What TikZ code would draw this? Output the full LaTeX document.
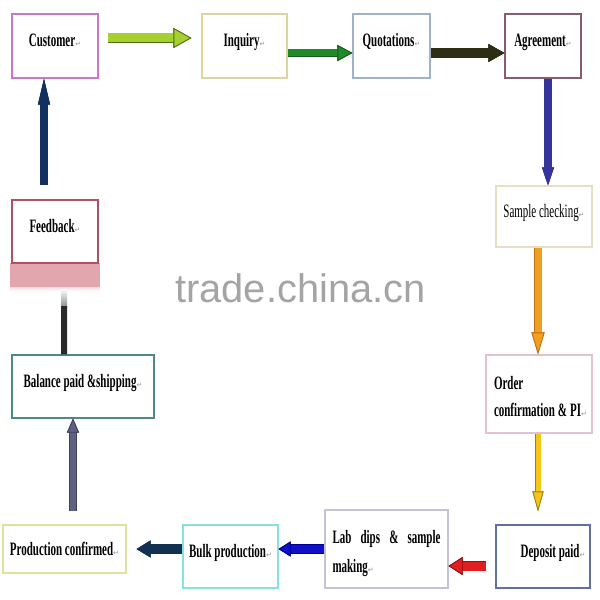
\documentclass[tikz,border=0pt]{standalone}
\usepackage{fontspec}
\setmainfont{Liberation Serif}[FakeStretch=0.58]
\newfontfamily\parmarkfont{DejaVu Sans}
\newfontfamily\watermarkfont{Liberation Sans}
\usetikzlibrary{arrows.meta}
\definecolor{retgray}{HTML}{909090}
\definecolor{bcust}{HTML}{C878C8}
\definecolor{binq}{HTML}{DDD4A0}
\definecolor{bquot}{HTML}{9FB0D0}
\definecolor{bagr}{HTML}{8A5A6E}
\definecolor{bsamp}{HTML}{E6DEC6}
\definecolor{border}{HTML}{E2C2D2}
\definecolor{bdep}{HTML}{6070A0}
\definecolor{blab}{HTML}{C8C0D8}
\definecolor{bbulk}{HTML}{88E0E0}
\definecolor{bprod}{HTML}{E0E0A0}
\definecolor{bbal}{HTML}{508888}
\definecolor{bfeed}{HTML}{B05060}
\definecolor{pinkband}{HTML}{E2A6AE}
\definecolor{wmgray}{HTML}{A4A4A4}
\definecolor{aLime}{HTML}{A6D030}\definecolor{aLimeO}{HTML}{4A7010}
\definecolor{aGreen}{HTML}{1F8A2A}\definecolor{aGreenO}{HTML}{1A5A1A}
\definecolor{aOlive}{HTML}{2E2E16}
\definecolor{aPurp}{HTML}{34349A}
\definecolor{aOrange}{HTML}{F0A020}\definecolor{aOrangeO}{HTML}{C07010}
\definecolor{aYellow}{HTML}{F5C518}\definecolor{aYellowO}{HTML}{A08010}
\definecolor{aRed}{HTML}{E02020}\definecolor{aRedO}{HTML}{901010}
\definecolor{aBlue}{HTML}{1010C8}\definecolor{aBlueO}{HTML}{000090}
\definecolor{aNavy}{HTML}{123050}
\definecolor{aNavyB}{HTML}{123060}
\definecolor{aSlate}{HTML}{606080}\definecolor{aSlateO}{HTML}{404060}
\definecolor{aDark}{HTML}{2A2A2A}
\newcommand\pmk{{\parmarkfont\mdseries\fontsize{7}{7}\selectfont\textcolor{retgray}{↵}}}
\begin{document}
\begin{tikzpicture}[x=1bp,y=-1bp,
  box/.style={draw=#1, line width=1.1bp, fill=white, inner sep=4bp,
    font=\fontsize{19}{27}\selectfont\bfseries},
  one/.style={text height=13bp, text depth=12bp},
  barrow/.style n args={5}{draw=#1, line width=#3,
    -{Triangle[length=#4, width=#5, fill=#1, color=#2, line width=0.8bp]},
    preaction={draw=#2, line width=#3+1.6bp}},
  watermark/.style={text=wmgray, font=\watermarkfont\fontsize{40}{40}\selectfont}]
\useasboundingbox (0,0) rectangle (600,600);

% pink band under Feedback
\fill[pinkband] (10,263) rectangle (100,287);
\shade[top color=pinkband!40, bottom color=white] (10,287) rectangle (100,291);

% boxes
\node[box=bcust, one, minimum width=86bp, minimum height=64bp] (cust) at (55,46) {Customer\pmk};
\node[box=binq, one, minimum width=85bp, minimum height=64bp] (inq) at (244.5,46) {Inquiry\pmk};
\node[box=bquot, one, minimum width=77bp, minimum height=64bp] (quot) at (391.5,46) {Quotations\pmk};
\node[box=bagr, one, minimum width=76bp, minimum height=64bp] (agr) at (543,46) {Agreement\pmk};
\node[box=bsamp, one, minimum width=96bp, minimum height=61bp, font=\fontsize{19}{27}\selectfont] (samp) at (544,216.5) {Sample checking\pmk};
\node[box=border, minimum width=106bp, minimum height=78bp, text width=98bp, align=left] (order) at (539,394) {\spaceskip=3bp\rule{0pt}{18bp}\hspace*{4bp}Order\\\hspace*{4bp}confirmation \& PI\pmk};
\node[box=bdep, one, minimum width=94bp, minimum height=63bp] (dep) at (543,556.5) {\hspace*{20bp}Deposit paid\pmk};
\node[box=blab, minimum width=123bp, minimum height=78bp, text width=108bp, align=left, font=\fontsize{19}{29}\selectfont\bfseries] (lab) at (386.5,549) {\rule{0pt}{23bp}Lab\hfill dips\hfill \&\hfill sample\\making\pmk};
\node[box=bbulk, one, minimum width=95bp, minimum height=63bp] (bulk) at (230.5,556.5) {Bulk production\pmk};
\node[box=bprod, minimum width=123bp, minimum height=48bp] (prod) at (64.5,549) {Production confirmed\pmk};
\node[box=bbal, one, minimum width=142bp, minimum height=63bp] (bal) at (83,386.5) {Balance paid \&shipping\pmk};
\node[box=bfeed, one, minimum width=86bp, minimum height=63bp] (feed) at (55,231.5) {Feedback\pmk};

% watermark
\node[watermark] (wm) at (300.5,288) {trade.china.cn};

% helper coordinates
\coordinate (depout) at ([yshift=-9.5bp]dep.west);
\coordinate (labin) at (lab.east |- depout);
\coordinate (bulkout) at ([yshift=7.5bp]bulk.west);
\coordinate (prodin) at (prod.east |- bulkout);
\coordinate (ordout) at ([xshift=-1bp]order.south);

% connectors
\draw[barrow={aLime}{aLimeO}{9bp}{18bp}{20bp}, shorten <=9bp, shorten >=10bp]
  ([yshift=8bp]cust.east) -- ([yshift=8bp]inq.west);
\draw[barrow={aGreen}{aGreenO}{7bp}{15bp}{16bp}]
  ([yshift=-7bp]inq.east) -- ([yshift=-7bp]quot.west);
\draw[barrow={aOlive}{aOlive}{9bp}{16bp}{18bp}]
  ([yshift=-7bp]quot.east) -- ([yshift=-7bp]agr.west);
\draw[barrow={aPurp}{aPurp}{6bp}{18bp}{12bp}]
  ([xshift=5bp]agr.south) -- ([xshift=5bp]agr.south |- samp.north);
\draw[barrow={aOrange}{aOrangeO}{7bp}{22bp}{13bp}]
  ([xshift=-6bp]samp.south) -- ([xshift=-6bp]samp.south |- order.north);
\draw[barrow={aYellow}{aYellowO}{5bp}{20bp}{11bp}, shorten >=13bp]
  (ordout) -- (ordout |- dep.north);
\draw[barrow={aRed}{aRedO}{9bp}{14bp}{18bp}, shorten <=9bp]
  (depout) -- (labin);
\draw[barrow={aBlue}{aBlueO}{8bp}{12bp}{15bp}]
  (lab.west) -- (lab.west -| bulk.east);
\draw[barrow={aNavy}{aNavy}{9bp}{14bp}{17bp}, shorten >=10bp]
  (bulkout) -- (prodin);
\draw[barrow={aSlate}{aSlateO}{6bp}{14bp}{12bp}, shorten <=13bp]
  ([xshift=8.5bp]prod.north) -- ([xshift=8.5bp]prod.north |- bal.south);
\coordinate (fbend) at (64,306);
\shade[top color=white, bottom color=aDark!55] (61,289) rectangle (67,307);
\draw[draw=aDark, line width=6bp] ([xshift=-19bp]bal.north) -- (fbend);
\draw[barrow={aNavyB}{aNavyB}{6bp}{26bp}{12bp}, shorten <=14bp]
  ([xshift=-11bp]feed.north) -- ([xshift=-11bp]feed.north |- cust.south);
\end{tikzpicture}
\end{document}
